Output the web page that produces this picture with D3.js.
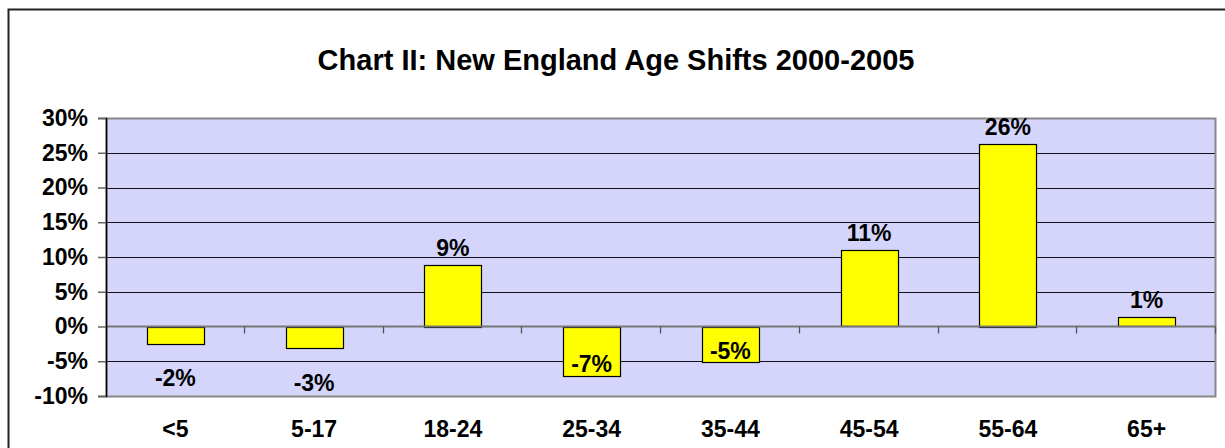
<!DOCTYPE html>
<html>
<head>
<meta charset="utf-8">
<script src="https://cdn.jsdelivr.net/npm/d3@7"></script>
<style>
  body { margin: 0; background: #fff; }
  text { font-family: "Liberation Sans", Arial, sans-serif; font-weight: bold; fill: #000; }
</style>
</head>
<body>
<script>
// chart values
var categories = ["<5", "5-17", "18-24", "25-34", "35-44", "45-54", "55-64", "65+"];
var shifts = [-2.4, -3.0, 8.9, -7.0, -5.1, 11.0, 26.3, 1.35];
var yTicks = [-10, -5, 0, 5, 10, 15, 20, 25, 30];
var titleText = "Chart II: New England Age Shifts 2000-2005";

var W = 1225, H = 448;
var plot = {left: 106, right: 1216, top: 118, bottom: 396};

var svg = d3.select("body").append("svg")
    .attr("width", W)
    .attr("height", H);

// outer chart frame (cut off on the right and bottom)
svg.append("rect")
    .attr("x", 8.5).attr("y", 9.5)
    .attr("width", W + 20).attr("height", H + 20)
    .attr("fill", "#fff")
    .attr("stroke", "#222")
    .attr("stroke-width", 2);

svg.append("text")
    .attr("x", 616).attr("y", 70)
    .attr("text-anchor", "middle")
    .style("font-size", "29px")
    .text(titleText);

var x = d3.scaleBand()
    .domain(categories)
    .range([plot.left, plot.right])
    .paddingInner(0.59)
    .paddingOuter(0.295);

var y = d3.scaleLinear()
    .domain([-10, 30])
    .range([plot.bottom, plot.top]);

// plot area
svg.append("rect")
    .attr("x", plot.left).attr("y", plot.top)
    .attr("width", plot.right - plot.left)
    .attr("height", plot.bottom - plot.top)
    .attr("fill", "#d5d5fb");

// gridlines
svg.append("g").selectAll("line")
    .data(yTicks.filter(function(t){ return t != 0 && t != -10 && t != 30; }))
  .enter().append("line")
    .attr("x1", plot.left).attr("x2", plot.right)
    .attr("y1", function(d){ return Math.round(y(d)) + 0.5; })
    .attr("y2", function(d){ return Math.round(y(d)) + 0.5; })
    .attr("stroke", "#111")
    .attr("stroke-width", 1);

// plot border
svg.append("rect")
    .attr("x", plot.left + 0.5).attr("y", plot.top + 0.5)
    .attr("width", plot.right - plot.left - 1)
    .attr("height", plot.bottom - plot.top)
    .attr("fill", "none")
    .attr("stroke", "#888")
    .attr("stroke-width", 2);

// bars
svg.append("g").selectAll("rect")
    .data(shifts)
  .enter().append("rect")
    .attr("x", function(d, i){ return Math.round(x(categories[i])) + 0.5; })
    .attr("y", function(d){ return Math.round(y(Math.max(0, d))) + 0.5; })
    .attr("width", Math.round(x.bandwidth()))
    .attr("height", function(d){ return Math.round(Math.abs(y(d) - y(0))); })
    .attr("fill", "#ffff00")
    .attr("stroke", "#000")
    .attr("stroke-width", 1.2);

// zero line and its category ticks
svg.append("line")
    .attr("x1", plot.left).attr("x2", plot.right)
    .attr("y1", y(0)).attr("y2", y(0))
    .attr("stroke", "#777")
    .attr("stroke-width", 2);

svg.append("g").selectAll("line")
    .data(categories.slice(1).concat(["end"]))
  .enter().append("line")
    .attr("x1", function(d, i){ return Math.round(plot.left + x.step() * (i + 1)) - 0.5; })
    .attr("x2", function(d, i){ return Math.round(plot.left + x.step() * (i + 1)) - 0.5; })
    .attr("y1", y(0)).attr("y2", y(0) + 7)
    .attr("stroke", "#555")
    .attr("stroke-width", 1.3);

// y axis
var yAxis = d3.axisLeft(y)
    .tickValues(yTicks)
    .tickSize(8)
    .tickPadding(10)
    .tickFormat(function(d){ return d + "%"; });

var ya = svg.append("g")
    .attr("transform", "translate(" + plot.left + ",0)")
    .call(yAxis);
ya.select(".domain").attr("stroke", "#000").attr("stroke-width", 1.5);
ya.selectAll(".tick line").attr("stroke", "#666").attr("stroke-width", 1.5);
ya.selectAll("text")
    .style("font-size", "23px")
    .style("font-family", "Liberation Sans, Arial, sans-serif")
    .style("font-weight", "bold")
    .attr("fill", "#000");

// category labels
svg.append("g").selectAll("text")
    .data(categories)
  .enter().append("text")
    .attr("x", function(d){ return x(d) + x.bandwidth() / 2; })
    .attr("y", 437)
    .attr("text-anchor", "middle")
    .style("font-size", "23px")
    .text(function(d){ return d; });

// value labels
svg.append("g").selectAll("text")
    .data(shifts)
  .enter().append("text")
    .attr("x", function(d, i){ return x(categories[i]) + x.bandwidth() / 2; })
    .attr("y", function(d){
      if (d >= 0) return y(d) - 17;
      if (y(d) + 42 < plot.bottom) return y(d) + 35;
      return y(d) - 11;
    })
    .attr("dy", "0.36em")
    .attr("text-anchor", "middle")
    .style("font-size", "23px")
    .text(function(d){ return Math.round(d) + "%"; });
</script>
</body>
</html>
